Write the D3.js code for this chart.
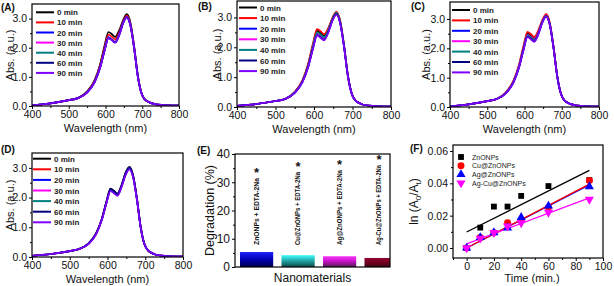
<!DOCTYPE html>
<html>
<head>
<meta charset="utf-8">
<script src="https://cdn.jsdelivr.net/npm/d3@7"></script>
<style>
body { margin: 0; background: #fff; }
svg { font-family: Arial, "Liberation Sans", sans-serif; }
</style>
</head>
<body>
<div id="canvas"></div>
<script>
const w = 614;
const h = 286;

// ---- data ----
const times = ["0 min", "10 min", "20 min", "30 min", "40 min", "60 min", "90 min"];
const timeColors = ["#000000", "#ff0000", "#0000ff", "#ff00ff", "#008080", "#000080", "#8000ff"];
const wavelengths = [400, 450, 500, 525, 550, 570, 585, 597, 608, 617, 626, 638, 648, 658, 668, 678, 688, 698, 712, 740, 800];

const spectraA = [
  [0.02,0.09,0.20,0.27,0.50,0.88,1.42,2.05,2.54,2.47,2.37,2.62,2.95,3.15,2.85,2.05,1.05,0.45,0.17,0.05,0.01],
  [0.02,0.09,0.20,0.27,0.49,0.85,1.37,1.98,2.45,2.38,2.29,2.55,2.90,3.10,2.80,2.02,1.03,0.44,0.17,0.05,0.01],
  [0.02,0.09,0.20,0.27,0.47,0.82,1.32,1.90,2.36,2.29,2.20,2.49,2.86,3.06,2.77,1.99,1.02,0.44,0.17,0.05,0.01],
  [0.02,0.09,0.20,0.27,0.47,0.82,1.31,1.90,2.35,2.28,2.19,2.48,2.86,3.05,2.76,1.99,1.02,0.44,0.17,0.05,0.01],
  [0.02,0.09,0.20,0.27,0.47,0.81,1.31,1.89,2.34,2.27,2.18,2.47,2.85,3.04,2.75,1.98,1.01,0.43,0.17,0.05,0.01],
  [0.02,0.09,0.20,0.27,0.47,0.81,1.30,1.88,2.33,2.27,2.18,2.46,2.85,3.04,2.75,1.98,1.01,0.43,0.17,0.05,0.01],
  [0.02,0.09,0.20,0.27,0.46,0.80,1.30,1.87,2.32,2.26,2.17,2.45,2.84,3.03,2.74,1.97,1.01,0.43,0.17,0.05,0.01]
];
const spectraB = [
  [0.04,0.10,0.20,0.27,0.50,0.88,1.43,2.06,2.55,2.48,2.38,2.64,2.97,3.17,2.87,2.06,1.06,0.45,0.17,0.05,0.01],
  [0.04,0.10,0.20,0.27,0.51,0.90,1.46,2.11,2.61,2.54,2.44,2.67,2.99,3.19,2.89,2.08,1.06,0.46,0.17,0.05,0.01],
  [0.04,0.10,0.20,0.27,0.48,0.84,1.36,1.96,2.43,2.36,2.27,2.55,2.92,3.12,2.82,2.03,1.04,0.45,0.17,0.05,0.01],
  [0.04,0.10,0.20,0.27,0.48,0.85,1.38,1.99,2.46,2.39,2.30,2.57,2.93,3.13,2.83,2.04,1.04,0.45,0.17,0.05,0.01],
  [0.04,0.10,0.20,0.27,0.49,0.87,1.40,2.02,2.50,2.43,2.33,2.60,2.95,3.15,2.85,2.05,1.05,0.45,0.17,0.05,0.01],
  [0.04,0.10,0.20,0.27,0.47,0.84,1.35,1.95,2.41,2.34,2.25,2.54,2.91,3.11,2.81,2.02,1.04,0.44,0.17,0.05,0.01],
  [0.04,0.10,0.20,0.27,0.47,0.83,1.34,1.93,2.39,2.32,2.23,2.52,2.89,3.09,2.80,2.01,1.03,0.44,0.17,0.05,0.01]
];
const spectraC = [
  [0.02,0.09,0.20,0.27,0.49,0.87,1.40,2.02,2.50,2.43,2.33,2.60,2.94,3.14,2.84,2.04,1.05,0.45,0.17,0.05,0.01],
  [0.02,0.09,0.20,0.27,0.50,0.89,1.43,2.07,2.56,2.49,2.39,2.64,2.97,3.17,2.87,2.06,1.06,0.45,0.17,0.05,0.01],
  [0.02,0.09,0.20,0.27,0.47,0.84,1.35,1.95,2.41,2.34,2.25,2.53,2.90,3.10,2.80,2.02,1.03,0.44,0.17,0.05,0.01],
  [0.02,0.09,0.20,0.27,0.48,0.85,1.38,1.99,2.46,2.39,2.30,2.57,2.92,3.12,2.82,2.03,1.04,0.45,0.17,0.05,0.01],
  [0.02,0.09,0.20,0.27,0.48,0.85,1.36,1.97,2.44,2.37,2.28,2.55,2.91,3.11,2.81,2.02,1.04,0.44,0.17,0.05,0.01],
  [0.02,0.09,0.20,0.27,0.47,0.83,1.34,1.94,2.40,2.33,2.24,2.52,2.89,3.09,2.80,2.01,1.03,0.44,0.17,0.05,0.01],
  [0.02,0.09,0.20,0.27,0.47,0.82,1.33,1.92,2.38,2.31,2.22,2.51,2.88,3.08,2.79,2.00,1.03,0.44,0.17,0.05,0.01]
];
const spectraD = [
  [0.04,0.10,0.20,0.27,0.46,0.80,1.29,1.86,2.30,2.23,2.13,2.45,2.84,3.03,2.74,1.97,1.01,0.43,0.17,0.05,0.01],
  [0.04,0.10,0.20,0.27,0.45,0.79,1.27,1.83,2.26,2.19,2.10,2.42,2.80,2.99,2.71,1.95,1.00,0.43,0.17,0.05,0.01],
  [0.04,0.10,0.20,0.27,0.45,0.78,1.26,1.82,2.25,2.18,2.09,2.41,2.79,2.98,2.70,1.94,0.99,0.43,0.17,0.05,0.01],
  [0.04,0.10,0.20,0.27,0.45,0.78,1.26,1.81,2.24,2.17,2.08,2.40,2.78,2.97,2.69,1.93,0.99,0.42,0.17,0.05,0.01],
  [0.04,0.10,0.20,0.27,0.45,0.78,1.25,1.81,2.24,2.17,2.08,2.40,2.78,2.97,2.69,1.93,0.99,0.42,0.17,0.05,0.01],
  [0.04,0.10,0.20,0.27,0.46,0.80,1.28,1.85,2.29,2.22,2.12,2.44,2.83,3.02,2.73,1.96,1.00,0.43,0.17,0.05,0.01],
  [0.04,0.10,0.20,0.27,0.44,0.77,1.25,1.80,2.22,2.15,2.06,2.38,2.76,2.95,2.67,1.92,0.98,0.42,0.17,0.05,0.01]
];

const barNames = ["ZnONPs + EDTA-2Na", "Cu@ZnONPs + EDTA-2Na", "Ag@ZnONPs + EDTA-2Na", "Ag-Cu@ZnONPs + EDTA-2Na"];
const barValues = [5.3, 4.2, 3.8, 3.2];
const barColors = [["#2020ff", "#0000b0", "#000050"], ["#40ffff", "#20a0a0", "#104848"], ["#ff30ff", "#c010c0", "#502050"], ["#900030", "#700020", "#3a0812"]];
const yTicksE = [0, 10, 20, 30, 40];

const kineticTimes = [0, 10, 20, 30, 40, 60, 90];
const kineticNames = ["ZnONPs", "Cu@ZnONPs", "Ag@ZnONPs", "Ag-Cu@ZnONPs"];
const kineticColors = ["#000000", "#ff0000", "#0000ff", "#ff00ff"];
const znoValues = [0, 0.0126, 0.0256, 0.0256, 0.0322, 0.0383, 0.042];
const cuValues = [0, 0.0065, 0.0095, 0.0156, 0.017, 0.025, 0.0418];
const agValues = [0, 0.0065, 0.0095, 0.0125, 0.019, 0.026, 0.038];
const agcuValues = [0, 0.006, 0.0095, 0.0135, 0.0155, 0.022, 0.030];
const fitTimes = [0, 90];
const fitLines = [[0.0099, 0.048], [0, 0.0395], [0, 0.039], [0.0025, 0.031]];
const yTicksF = [0, 0.02, 0.04, 0.06];
const xTicksF = [0, 20, 40, 60, 80, 100];

let svg = d3.select("#canvas").append("svg").attr("width", w).attr("height", h);

function frame(g, l, r, t, b) {
  g.append("rect").attr("x", l).attr("y", t).attr("width", r - l).attr("height", b - t)
    .attr("fill", "none").attr("stroke", "#000").attr("stroke-width", 1.2);
}

function styleAxis(a, size) {
  a.select(".domain").remove();
  a.selectAll("line").attr("stroke", "#000").attr("stroke-width", 1);
  a.selectAll("text").attr("font-size", size).attr("fill", "#111");
}

function spectraPanel(p, series) {
  let g = svg.append("g");
  let x = d3.scaleLinear().domain([400, 800]).range([p.left, p.right]);
  let y = d3.scaleLinear().domain(p.yDomain).range([p.bottom, p.top]);

  let clipId = "clip" + p.name;
  svg.append("clipPath").attr("id", clipId).append("rect")
    .attr("x", p.left).attr("y", p.top).attr("width", p.right - p.left).attr("height", p.bottom - p.top);

  let line = d3.line().x((d, i) => x(wavelengths[i])).y((d) => y(d)).curve(d3.curveMonotoneX);
  let lines = g.append("g").attr("clip-path", "url(#" + clipId + ")");
  series.forEach((s, i) => {
    lines.append("path").attr("d", line(s)).attr("fill", "none")
      .attr("stroke", timeColors[i]).attr("stroke-width", 1.7);
  });

  let xa = g.append("g").attr("transform", "translate(0," + p.bottom + ")")
    .call(d3.axisBottom(x).tickValues([400, 500, 600, 700, 800]).tickSize(3).tickPadding(2));
  styleAxis(xa, 10.5);
  let xm = g.append("g").attr("transform", "translate(0," + p.bottom + ")")
    .call(d3.axisBottom(x).tickValues([450, 550, 650, 750]).tickSize(2).tickFormat(""));
  styleAxis(xm, 10);
  let ya = g.append("g").attr("transform", "translate(" + p.left + ",0)")
    .call(d3.axisLeft(y).tickValues([0, 1, 2, 3]).tickSize(3).tickPadding(2));
  styleAxis(ya, 10.5);
  let ym = g.append("g").attr("transform", "translate(" + p.left + ",0)")
    .call(d3.axisLeft(y).tickValues([0.5, 1.5, 2.5]).tickSize(2).tickFormat(""));
  styleAxis(ym, 10);
  frame(g, p.left, p.right, p.top, p.bottom);

  // legend
  times.forEach((t, i) => {
    let ly = p.legY + i * p.legStep;
    g.append("line").attr("x1", p.legX).attr("x2", p.legX + 18).attr("y1", ly).attr("y2", ly)
      .attr("stroke", timeColors[i]).attr("stroke-width", 2);
    g.append("text").attr("x", p.legX + 21).attr("y", ly + 3).attr("font-size", 8)
      .attr("font-weight", "bold").attr("fill", "#222").text(t);
  });

  g.append("text").attr("x", (p.left + p.right) / 2).attr("y", p.bottom + 26)
    .attr("text-anchor", "middle").attr("font-size", 11).attr("fill", "#111").text("Wavelength (nm)");
  g.append("text").attr("transform", "translate(" + p.yLabX + "," + (p.top + p.bottom) / 2 + ") rotate(-90)")
    .attr("text-anchor", "middle").attr("font-size", 11).attr("fill", "#111").text("Abs. (a.u.)");
  g.append("text").attr("x", p.tagX).attr("y", p.tagY).attr("font-size", 10)
    .attr("font-weight", "bold").attr("fill", "#111").text(p.tag);
}

spectraPanel({name: "A", tag: "(A)", left: 32, right: 179, top: 4, bottom: 106, yDomain: [0, 3.5],
  legX: 36, legY: 12.3, legStep: 10.1, yLabX: 14, tagX: 1, tagY: 11}, spectraA);
spectraPanel({name: "B", tag: "(B)", left: 237, right: 391, top: 1, bottom: 107, yDomain: [0, 3.55],
  legX: 239, legY: 7.5, legStep: 10.6, yLabX: 221, tagX: 198, tagY: 10}, spectraB);
spectraPanel({name: "C", tag: "(C)", left: 450, right: 599, top: 2, bottom: 107, yDomain: [0, 3.58],
  legX: 452, legY: 10, legStep: 10.4, yLabX: 430, tagX: 411, tagY: 10}, spectraC);
spectraPanel({name: "D", tag: "(D)", left: 32, right: 183, top: 153, bottom: 257, yDomain: [0, 3.5],
  legX: 33, legY: 158.7, legStep: 10.6, yLabX: 14, tagX: 1, tagY: 153}, spectraD);

// ---- panel E ----
function barPanel() {
  let g = svg.append("g");
  let left = 235, right = 390, top = 154, bottom = 267;
  let labelLengths = [67, 73, 75, 80];
  let x = d3.scaleBand().domain(barNames).range([235.85, 401.85]).paddingInner(0.2).paddingOuter(0.1);
  let y = d3.scaleLinear().domain([0, 40]).range([bottom, top]);

  let defs = svg.append("defs");
  barColors.forEach((c, i) => {
    let grad = defs.append("linearGradient").attr("id", "barGrad" + i)
      .attr("x1", 0).attr("y1", 0).attr("x2", 0).attr("y2", 1);
    grad.append("stop").attr("offset", "0%").attr("stop-color", c[0]);
    grad.append("stop").attr("offset", "50%").attr("stop-color", c[1]);
    grad.append("stop").attr("offset", "100%").attr("stop-color", c[2]);
  });
  svg.append("clipPath").attr("id", "clipE").append("rect")
    .attr("x", left).attr("y", top).attr("width", right - left).attr("height", bottom - top);

  g.append("g").attr("clip-path", "url(#clipE)").selectAll("rect").data(barNames)
    .enter().append("rect")
    .attr("x", (d) => x(d)).attr("width", x.bandwidth())
    .attr("y", (d, i) => y(barValues[i])).attr("height", (d, i) => bottom - y(barValues[i]))
    .attr("fill", (d, i) => "url(#barGrad" + i + ")");

  barNames.forEach((n, i) => {
    let cx = Math.min(x(n) + x.bandwidth() / 2, 379);
    let base = 245;
    g.append("text").attr("transform", "translate(" + (cx + 2) + "," + base + ") rotate(-90)")
      .attr("font-size", 6.3).attr("font-weight", "bold").attr("fill", "#111")
      .attr("textLength", labelLengths[i]).attr("lengthAdjust", "spacingAndGlyphs").text(n);
    g.append("text").attr("x", cx).attr("y", base - labelLengths[i] - 1.5).attr("text-anchor", "middle")
      .attr("font-size", 13).attr("font-weight", "bold").attr("fill", "#111").text("*");
  });

  let ya = g.append("g").attr("transform", "translate(" + left + ",0)")
    .call(d3.axisLeft(y).tickValues(yTicksE).tickSize(3).tickPadding(2));
  styleAxis(ya, 12);
  let ym = g.append("g").attr("transform", "translate(" + left + ",0)")
    .call(d3.axisLeft(y).tickValues([5, 15, 25, 35]).tickSize(2).tickFormat(""));
  styleAxis(ym, 10);
  frame(g, left, right, top, bottom);

  g.append("text").attr("x", (left + right) / 2).attr("y", 282).attr("text-anchor", "middle")
    .attr("font-size", 12).attr("fill", "#111").text("Nanomaterials");
  g.append("text").attr("transform", "translate(214," + (top + bottom) / 2 + ") rotate(-90)")
    .attr("text-anchor", "middle").attr("font-size", 12.5).attr("fill", "#111").text("Degradation (%)");
  g.append("text").attr("x", 197).attr("y", 154).attr("font-size", 10)
    .attr("font-weight", "bold").attr("fill", "#111").text("(E)");
}
barPanel();

// ---- panel F ----
function kineticPanel() {
  let g = svg.append("g");
  let left = 453, right = 603, top = 145, bottom = 258;
  let x = d3.scaleLinear().domain([-10, 100]).range([left, right]);
  let y = d3.scaleLinear().domain([-0.0062, 0.0637]).range([bottom, top]);
  let sets = [znoValues, cuValues, agValues, agcuValues];
  let shapes = [d3.symbolSquare, d3.symbolCircle, d3.symbolTriangle, d3.symbolTriangle];
  let sizes = [34, 38, 36, 36];
  let order = [0, 2, 1, 3];

  let line = d3.line().x((d, i) => x(fitTimes[i])).y((d) => y(d));
  order.forEach((k) => {
    g.append("path").attr("d", line(fitLines[k])).attr("fill", "none")
      .attr("stroke", kineticColors[k]).attr("stroke-width", 1.3);
  });
  sets.forEach((vals, k) => {
    g.selectAll(".pt" + k).data(vals).enter().append("path")
      .attr("d", d3.symbol().type(shapes[k]).size(sizes[k]))
      .attr("transform", (d, i) => "translate(" + x(kineticTimes[i]) + "," + y(d) + ")" + (k == 3 ? " rotate(180)" : ""))
      .attr("fill", kineticColors[k]);
  });

  let xa = g.append("g").attr("transform", "translate(0," + bottom + ")")
    .call(d3.axisBottom(x).tickValues(xTicksF).tickSize(3).tickPadding(2));
  styleAxis(xa, 10.5);
  let xm = g.append("g").attr("transform", "translate(0," + bottom + ")")
    .call(d3.axisBottom(x).tickValues([-10, 10, 30, 50, 70, 90]).tickSize(2).tickFormat(""));
  styleAxis(xm, 10);
  let ya = g.append("g").attr("transform", "translate(" + left + ",0)")
    .call(d3.axisLeft(y).tickValues(yTicksF).tickSize(3).tickPadding(2).tickFormat(d3.format(".2f")));
  styleAxis(ya, 10.5);
  let ym = g.append("g").attr("transform", "translate(" + left + ",0)")
    .call(d3.axisLeft(y).tickValues([0.01, 0.03, 0.05]).tickSize(2).tickFormat(""));
  styleAxis(ym, 10);
  frame(g, left, right, top, bottom);

  kineticNames.forEach((n, k) => {
    let ly = 157 + k * 8.7;
    g.append("path").attr("d", d3.symbol().type(shapes[k]).size(sizes[k]))
      .attr("transform", "translate(461," + ly + ")" + (k == 3 ? " rotate(180)" : ""))
      .attr("fill", kineticColors[k]);
    g.append("text").attr("x", 472).attr("y", ly + 2.5).attr("font-size", 7).attr("fill", "#222").text(n);
  });

  g.append("text").attr("x", (left + right) / 2 + 4).attr("y", 282).attr("text-anchor", "middle")
    .attr("font-size", 11).attr("fill", "#111").text("Time (min.)");
  let yl = g.append("text").attr("transform", "translate(418," + (top + bottom) / 2 + ") rotate(-90)")
    .attr("text-anchor", "middle").attr("font-size", 12).attr("fill", "#111");
  yl.append("tspan").text("ln (A");
  yl.append("tspan").attr("font-size", 8).attr("dy", 3).text("0");
  yl.append("tspan").attr("dy", -3).text("/A");
  yl.append("tspan").attr("font-size", 8).attr("dy", 3).text("t");
  yl.append("tspan").attr("dy", -3).text(")");
  g.append("text").attr("x", 410).attr("y", 152).attr("font-size", 10)
    .attr("font-weight", "bold").attr("fill", "#111").text("(F)");
}
kineticPanel();
</script>
</body>
</html>
